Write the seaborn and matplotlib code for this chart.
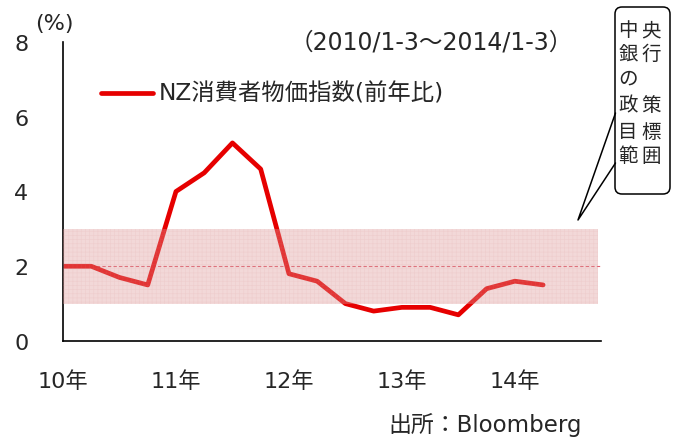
import numpy as np
import pandas as pd
import seaborn as sns
import matplotlib
matplotlib.use("Agg")
import matplotlib.pyplot as plt
from matplotlib.patches import FancyBboxPatch, Polygon
from matplotlib.lines import Line2D

# ---- data ----
quarters = list(range(18))  # 2010Q1 .. 2014Q2
cpi_yoy = [2.0, 2.0, 1.7, 1.5, 4.0, 4.5, 5.3, 4.6, 1.8, 1.6,
           1.0, 0.8, 0.9, 0.9, 0.7, 1.4, 1.6, 1.5]
xtick_pos = [0, 4, 8, 12, 16]
xtick_labels = ["10年", "11年", "12年", "13年", "14年"]
ytick_vals = [0, 2, 4, 6, 8]
target_low, target_mid, target_high = 1, 2, 3
series_name = "NZ消費者物価指数(前年比)"
period_text = "（2010/1-3～2014/1-3）"
source_text = "出所：Bloomberg"
unit_text = "(%)"
callout_cols = [["中", "銀", "の", "政", "目", "範"], ["央", "行", "", "策", "標", "囲"]]

sns.set_theme(style="white")
plt.rcParams['font.family'] = ['DejaVu Sans', 'Noto Sans CJK JP']

fig = plt.figure(figsize=(6.76, 4.39), dpi=100)
W, H = 676, 439
ax = fig.add_axes([63 / W, (H - 342) / H, (601 - 63) / W, (342 - 43) / H])

df = pd.DataFrame({"q": quarters, "v": cpi_yoy})
sns.lineplot(data=df, x="q", y="v", ax=ax, color="#e60000", linewidth=3.4,
             zorder=2, legend=False)

# target band
plt.rcParams['hatch.linewidth'] = 0.5
ax.axhspan(target_low, target_high, xmin=0, xmax=0.994,
           facecolor=(0.86, 0.58, 0.58, 0.36), edgecolor=(0.85, 0.55, 0.55, 0.13),
           hatch="++++", linewidth=0, zorder=3)
ax.axhline(target_mid, color="#e06070", linewidth=0.8, linestyle=(0, (3, 2)), zorder=1)

ax.set_xlim(0, 19.05)
ax.set_ylim(0, 8)
ax.set_xticks(xtick_pos)
ax.set_xticklabels(xtick_labels, fontsize=16)
ax.set_yticks(ytick_vals)
ax.set_yticklabels([str(v) for v in ytick_vals], fontsize=16)
ax.tick_params(axis="x", direction="in", length=7, color="#999999", pad=21)
ax.tick_params(axis="y", direction="in", length=7, color="#999999", pad=25)
ax.set_xlabel("")
ax.set_ylabel("")
for s in ["top", "right"]:
    ax.spines[s].set_visible(False)
for s in ["left", "bottom"]:
    ax.spines[s].set_color("black")
    ax.spines[s].set_linewidth(1.2)

# overlay in pixel coords
ov = fig.add_axes([0, 0, 1, 1], zorder=10)
ov.set_xlim(0, W)
ov.set_ylim(H, 0)
ov.axis("off")
ov.patch.set_alpha(0)

ov.text(54, 24, unit_text, fontsize=16, ha="center", va="center")
ov.text(431, 43, period_text, fontsize=17, ha="center", va="center")
ov.add_line(Line2D([101, 153], [94, 94], color="#e60000", linewidth=3.4,
                   solid_capstyle="round"))
ov.text(159, 94, series_name, fontsize=16.8, ha="left", va="center")
ov.text(485, 425, source_text, fontsize=16.5, ha="center", va="center")

# callout
box = FancyBboxPatch((615, 8), 55, 187, boxstyle="round,pad=0,rounding_size=7",
                     facecolor="white", edgecolor="black", linewidth=1.1)
ov.add_patch(box)
ov.add_patch(Polygon([[613, 114], [578, 221], [613, 164]], closed=True,
                     facecolor="white", edgecolor="none"))
ov.add_line(Line2D([615.5, 578, 615.5], [114, 221, 164], color="black", linewidth=1.1))
rows_y = [36, 60, 85, 111, 138, 162]
col_x = [628, 651]
for ci, col in enumerate(callout_cols):
    for ri, ch in enumerate(col):
        if ch:
            ov.text(col_x[ci], rows_y[ri], ch, fontsize=14, ha="center", va="baseline",
                    family="Noto Sans CJK JP")

fig.savefig("out.png", dpi=100)
